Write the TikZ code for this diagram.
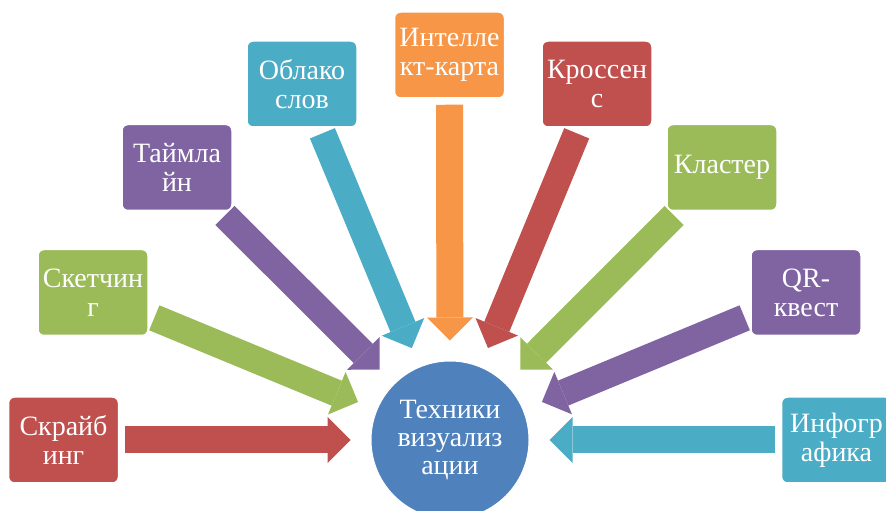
\documentclass[tikz,border=0pt]{standalone}
\usepackage{fontspec}
\setmainfont{Liberation Serif}
\usetikzlibrary{arrows.meta,backgrounds}

\definecolor{accRed}{HTML}{C0504D}
\definecolor{accGreen}{HTML}{9BBB59}
\definecolor{accPurple}{HTML}{8064A2}
\definecolor{accTeal}{HTML}{4BACC6}
\definecolor{accOrange}{HTML}{F79646}
\definecolor{accBlue}{HTML}{4F81BD}

\tikzset{
  techbox/.style={draw=white, line width=1.5pt, rounded corners=6pt,
    minimum width=110pt, minimum height=86pt, inner sep=0pt,
    align=center, text=white, font=\fontsize{28}{29}\selectfont},
  hub/.style={circle, fill=accBlue, draw=white, line width=1pt,
    minimum size=158pt, inner sep=0pt,
    align=center, text=white, font=\fontsize{28}{28}\selectfont},
  blockarrow/.style={line width=27pt, shorten <=6pt, shorten >=20pt,
    -{Triangle[width=46pt,length=23pt,line width=0pt]},
    preaction={draw=white, line width=30pt,
      -{Triangle[width=51pt,length=26pt,line width=0pt]}}}
}

\begin{document}
\begin{tikzpicture}[x=1pt,y=1pt]

  \clip (0,0) rectangle (886,511);

  % technique boxes round the hub
  \foreach \name/\x/\y/\col/\txt in {
      scr/63.5/71/accRed/{Скрайб\\инг},
      sket/93/218.5/accGreen/{Скетчин\\г},
      time/177/343.5/accPurple/{Таймла\\йн},
      cloud/302/427/accTeal/{Облако\\слов},
      mind/449.5/456/accOrange/{Интелле\\кт-карта},
      cross/597/427/accRed/{Кроссен\\с},
      clust/722/343.5/accGreen/{Кластер},
      quest/806/218.5/accPurple/{QR-\\квест},
      info/836.5/71/accTeal/{Инфогр\\афика}}
    \node[techbox, fill=\col] (\name) at (\x,\y) {\txt};

  \node[hub] (hub) at (450,71) {Техники\\визуализ\\ации};

  % block arrows into the hub
  \begin{pgfonlayer}{background}
    \foreach \name/\col in {scr/accRed, sket/accGreen, time/accPurple,
        cloud/accTeal, mind/accOrange, cross/accRed, clust/accGreen,
        quest/accPurple, info/accTeal}
      \draw[blockarrow, \col] (\name) -- (hub);
  \end{pgfonlayer}

\end{tikzpicture}
\end{document}
